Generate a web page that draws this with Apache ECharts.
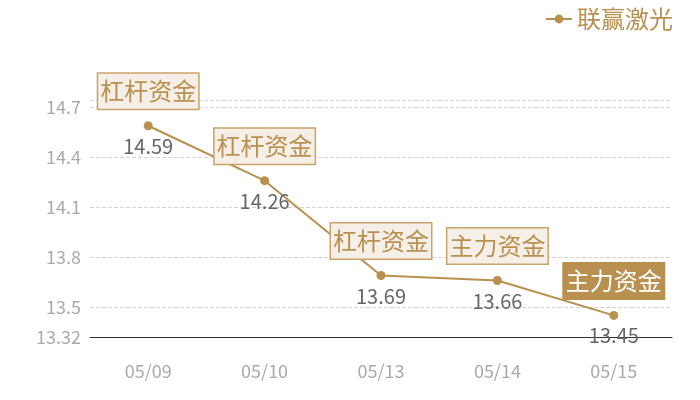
<!DOCTYPE html>
<html>
<head>
<meta charset="utf-8">
<script src="https://cdn.jsdelivr.net/npm/echarts@6/dist/echarts.min.js"></script>
<style>
  html, body { margin: 0; padding: 0; background: #fff; }
  #chart { width: 700px; height: 400px; }
</style>
</head>
<body>
<div id="chart"></div>
<script>
// 联赢激光 收盘价 + 资金标签
var dates = ['05/09', '05/10', '05/13', '05/14', '05/15'];
var prices = [14.59, 14.26, 13.69, 13.66, 13.45];
var tags = ['杠杆资金', '杠杆资金', '杠杆资金', '主力资金', '主力资金'];
var yTicks = [13.32, 13.5, 13.8, 14.1, 14.4, 14.7, 14.745];
var yLabels = [13.32, 13.5, 13.8, 14.1, 14.4, 14.7];
var yMin = 13.32;
var yMax = 14.745;

(function() {
  var gold = '#b8904f';
  var goldLine = '#c9a36b';
  var paper = '#f5efe7';
  var font = "'Noto Sans CJK SC', 'Noto Sans', sans-serif";

  var chart = echarts.init(document.getElementById('chart'), null, { renderer: 'canvas' });

  // 最后一个标签用实心底色
  var tagData = prices.map(function(v, i) {
    var last = i === prices.length - 1;
    return {
      value: v,
      label: last ? {
        color: '#fff',
        backgroundColor: gold,
        borderColor: gold
      } : {}
    };
  });

  chart.setOption({
    animation: false,
    textStyle: { fontFamily: font },
    legend: {
      data: ['联赢激光'],
      top: 2,
      right: 22,
      itemWidth: 26,
      itemHeight: 11,
      itemGap: 8,
      textStyle: { color: gold, fontSize: 24, fontFamily: font }
    },
    grid: {
      left: 90,
      right: 28,
      top: 100,
      bottom: 63,
      containLabel: false
    },
    xAxis: {
      type: 'category',
      data: dates,
      boundaryGap: true,
      axisLine: { lineStyle: { color: '#333', width: 1 } },
      axisTick: { show: false },
      axisLabel: { color: '#aaa', fontSize: 18, margin: 25, fontFamily: font }
    },
    yAxis: {
      type: 'value',
      min: yMin,
      max: yMax,
      axisLine: { show: false },
      axisTick: { show: false, customValues: yTicks },
      axisLabel: {
        color: '#aaa',
        fontSize: 18,
        margin: 9,
        fontFamily: font,
        customValues: yLabels
      },
      splitLine: { lineStyle: { color: '#d4d4d4', type: 'dashed', width: 1 } }
    },
    series: [
      {
        name: '联赢激光',
        type: 'line',
        data: prices,
        symbol: 'circle',
        symbolSize: 9,
        lineStyle: { color: gold, width: 2 },
        itemStyle: { color: gold },
        label: {
          show: true,
          position: 'bottom',
          distance: 6,
          color: '#666',
          fontSize: 20,
          fontFamily: font
        },
        z: 3
      },
      {
        name: 'tag',
        type: 'line',
        data: tagData,
        symbol: 'circle',
        symbolSize: 8,
        showSymbol: true,
        itemStyle: { color: 'rgba(0,0,0,0)' },
        lineStyle: { color: 'rgba(0,0,0,0)', width: 0 },
        silent: true,
        label: {
          show: true,
          position: 'top',
          distance: 13,
          formatter: function(p) { return tags[p.dataIndex]; },
          color: gold,
          fontSize: 24,
          lineHeight: 29,
          fontFamily: font,
          backgroundColor: paper,
          borderColor: goldLine,
          borderWidth: 1.5,
          padding: [3, 2, 3, 2]
        },
        z: 4
      }
    ]
  });
})();
</script>
</body>
</html>
